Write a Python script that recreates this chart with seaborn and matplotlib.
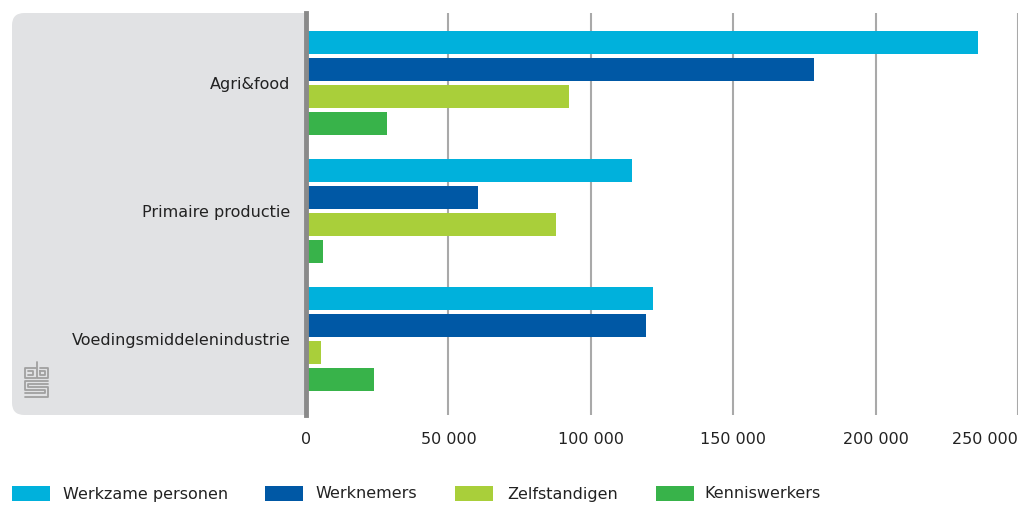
import matplotlib
matplotlib.use("Agg")
import matplotlib.pyplot as plt
import seaborn as sns
import pandas as pd
from matplotlib.patches import FancyBboxPatch, Rectangle
from matplotlib.lines import Line2D

categories = ["Agri&food", "Primaire productie", "Voedingsmiddelenindustrie"]
series = ["Werkzame personen", "Werknemers", "Zelfstandigen", "Kenniswerkers"]
werkzame = [236000, 114500, 122000]
werknemers = [178300, 60300, 119300]
zelfstandigen = [92300, 87700, 5400]
kenniswerkers = [28400, 6000, 23800]
colors = ["#00b1dc", "#0058a5", "#a9cf3a", "#38b34a"]
xticks = [0, 50000, 100000, 150000, 200000, 250000]
xticklabels = ["0", "50 000", "100 000", "150 000", "200 000", "250 000"]

rows = []
for name, vals in zip(series, [werkzame, werknemers, zelfstandigen, kenniswerkers]):
    for c, v in zip(categories, vals):
        rows.append({"cat": c, "series": name, "value": v})
df = pd.DataFrame(rows)

sns.set_style("white")
plt.rcParams["font.family"] = ["DejaVu Sans"]
W, H = 1028, 505
fig = plt.figure(figsize=(W / 100, H / 100), dpi=100)
ax = fig.add_axes([306 / W, (H - 415) / H, 712 / W, 402 / H])

# grey panel behind category labels
panel = FancyBboxPatch((12 / W, (H - 415) / H), 310 / W, 402 / H,
                       boxstyle="round,pad=0,rounding_size=0.012",
                       transform=fig.transFigure, facecolor="#e1e2e4",
                       edgecolor="none", zorder=-5,
                       mutation_aspect=W / H)
fig.patches.append(panel)

sns.barplot(data=df, y="cat", x="value", hue="series", order=categories,
            hue_order=series, palette=colors, orient="h", width=0.845,
            gap=0.18, ax=ax, legend=False, saturation=1, linewidth=0)

ax.set_xlim(0, 250000)
ax.set_ylim(2.594, -0.547)
ax.set_xticks(xticks)
ax.set_xticklabels(xticklabels)
ax.get_xticklabels()[-1].set_horizontalalignment("right")
ax.set_xlabel("")
ax.set_ylabel("")
ax.grid(axis="x", color="#a9a9a9", linewidth=1.5)
ax.set_axisbelow(True)
for s in ["top", "right", "bottom"]:
    ax.spines[s].set_visible(False)
ax.spines["left"].set_color("#8a8a8a")
ax.spines["left"].set_linewidth(3.5)
ax.tick_params(axis="x", length=0, pad=12, labelsize=11.5, labelcolor="#222222")
ax.tick_params(axis="y", length=0, pad=11, labelsize=11.5, labelcolor="#222222")
ax.set_facecolor("white")

# legend
leg_sq = [12, 265, 455, 656]
leg_tx = [63, 315, 507, 704]
for sx, tx, col, name in zip(leg_sq, leg_tx, colors, series):
    fig.patches.append(Rectangle((sx / W, (H - 501) / H), 38 / W, 15 / H,
                                 transform=fig.transFigure, facecolor=col,
                                 edgecolor="none"))
    fig.text(tx / W, (H - 494) / H, name, fontsize=11.5, color="#222222",
             va="center", ha="left")

# simple CBS logo glyph
lc = "#a0a0a0"
def seg(pts):
    xs = [p[0] / W for p in pts]
    ys = [(H - p[1]) / H for p in pts]
    fig.lines.append(Line2D(xs, ys, transform=fig.transFigure, color=lc, lw=1.3))
seg([(36, 368), (25, 368), (25, 378), (36, 378)])
seg([(28, 371), (33, 371), (33, 375), (28, 375)])
seg([(37, 362), (37, 378), (48, 378), (48, 368), (40, 368)])
seg([(40, 371), (45, 371), (45, 375), (40, 375), (40, 371)])
seg([(48, 381), (25, 381), (25, 390), (45, 390), (45, 393), (25, 393)])
seg([(48, 384), (28, 384), (28, 387), (48, 387), (48, 397), (25, 397)])

fig.savefig("out.png", dpi=100)
